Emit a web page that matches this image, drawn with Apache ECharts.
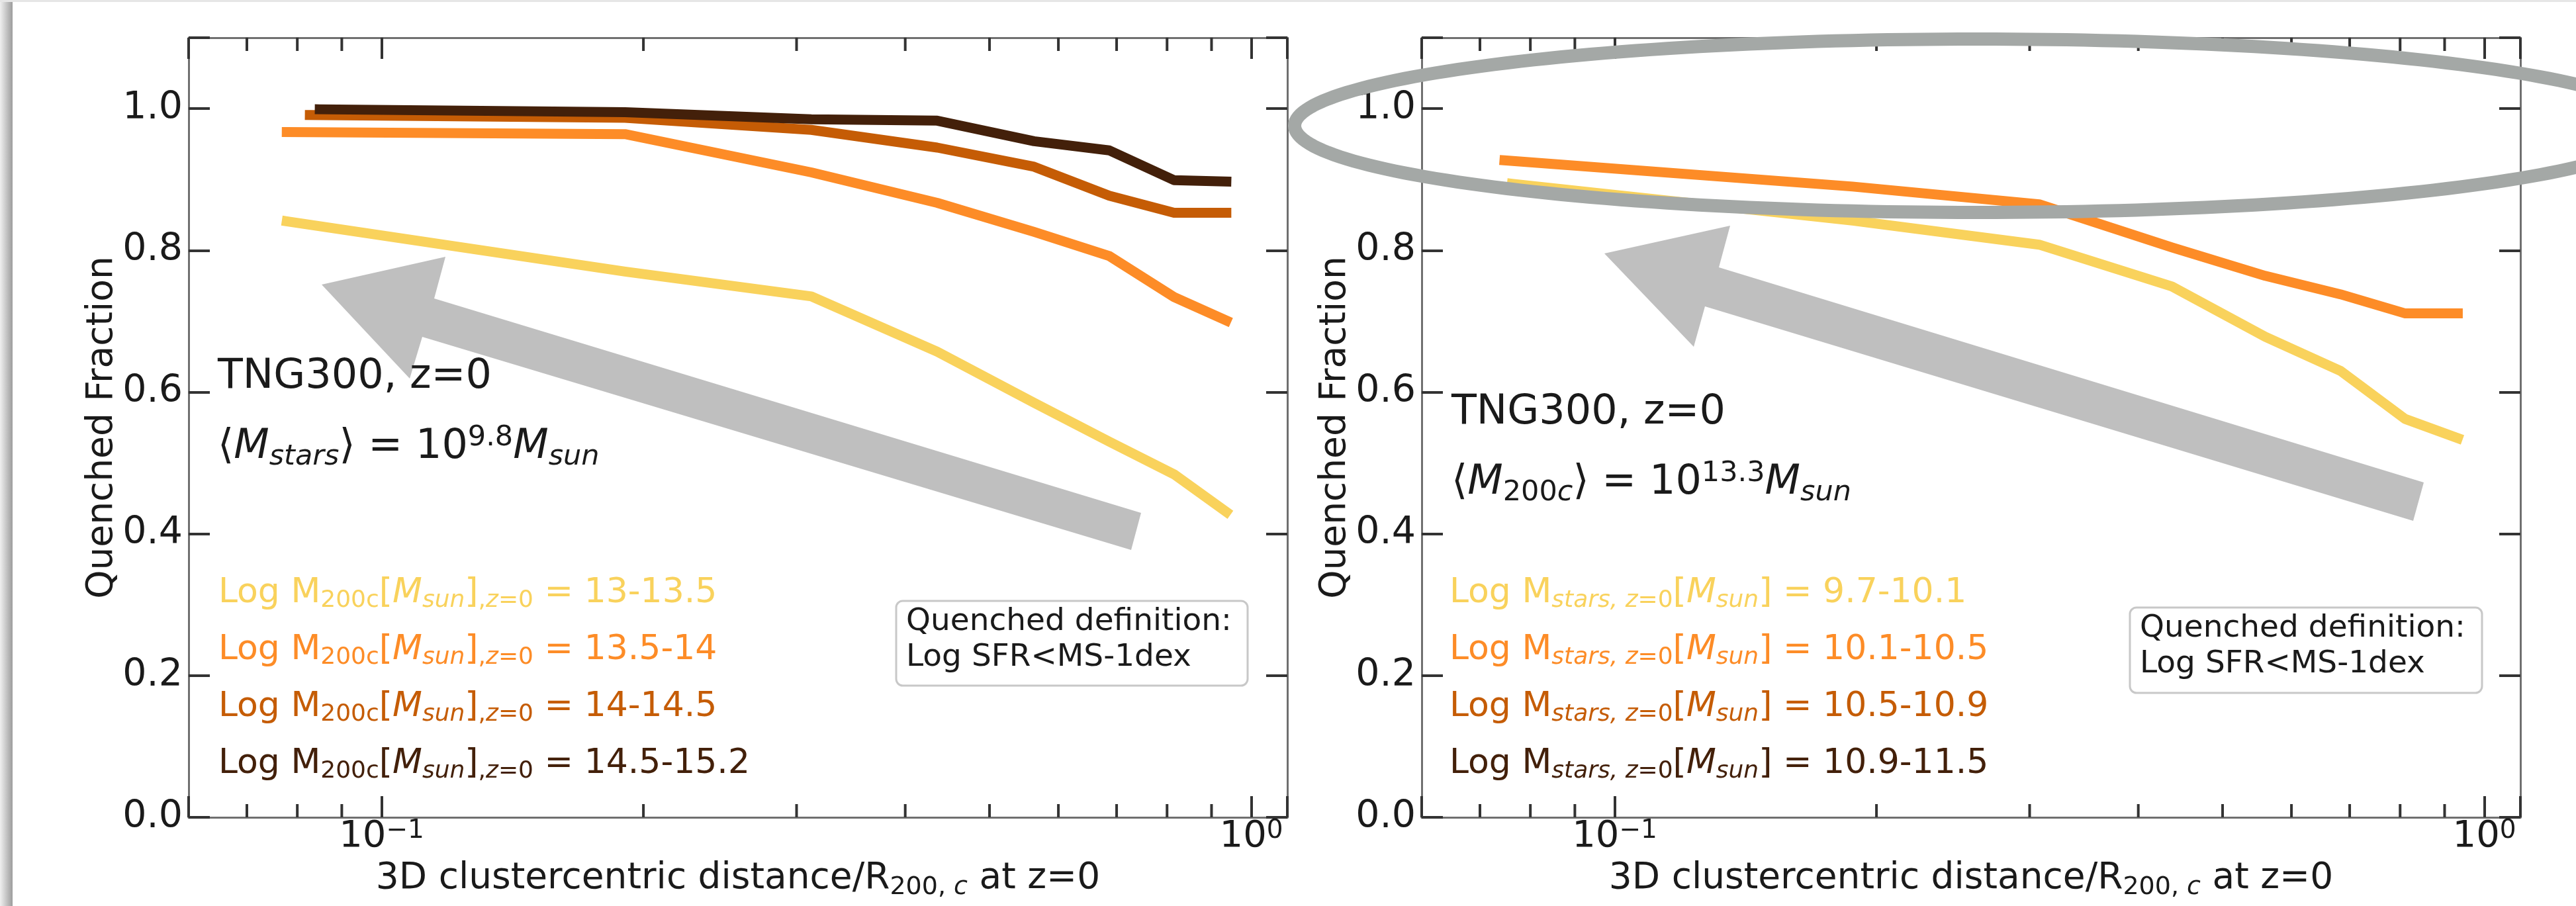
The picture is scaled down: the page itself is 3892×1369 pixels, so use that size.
<!DOCTYPE html>
<html>
<head>
<meta charset="utf-8">
<script src="https://cdn.jsdelivr.net/npm/echarts@6/dist/echarts.min.js"></script>
<style>
  html, body { margin: 0; padding: 0; background: #fff; }
  #chart { width: 3892px; height: 1369px; }
</style>
</head>
<body>
<div id="chart"></div>
<script>
// axis ranges and ticks
const xMin = 0.06, xMax = 1.1;
const yMin = 0, yMax = 1.1, yStep = 0.2;
const minorTickValues = [0.06, 0.07, 0.08, 0.09, 0.2, 0.3, 0.4, 0.5, 0.6, 0.7, 0.8, 0.9];

const lineColors = ["#f9d25c", "#fd8c27", "#c55c05", "#43200a"];

// left panel : split by host halo mass
const leftRanges = ["13-13.5", "13.5-14", "14-14.5", "14.5-15.2"];
const leftX1 = [0.0778, 0.1905, 0.312, 0.4353, 0.5626, 0.6866, 0.815, 0.936];
const leftY1 = [0.841, 0.770, 0.735, 0.657, 0.585, 0.530, 0.484, 0.431];
const leftX2 = [0.0778, 0.1905, 0.312, 0.4353, 0.5626, 0.6866, 0.815, 0.936];
const leftY2 = [0.967, 0.964, 0.910, 0.867, 0.826, 0.792, 0.734, 0.701];
const leftX3 = [0.0827, 0.1905, 0.312, 0.4353, 0.5626, 0.6866, 0.815, 0.936];
const leftY3 = [0.991, 0.987, 0.970, 0.945, 0.918, 0.877, 0.853, 0.853];
const leftX4 = [0.0849, 0.1905, 0.312, 0.4353, 0.5626, 0.6866, 0.815, 0.936];
const leftY4 = [0.999, 0.995, 0.985, 0.983, 0.954, 0.941, 0.899, 0.897];

// right panel : split by stellar mass (only two bins have a curve)
const rightRanges = ["9.7-10.1", "10.1-10.5", "10.5-10.9", "10.9-11.5"];
const rightX1 = [0.0762, 0.1877, 0.3077, 0.4373, 0.5598, 0.683, 0.811, 0.932];
const rightY1 = [0.894, 0.842, 0.808, 0.749, 0.678, 0.630, 0.562, 0.535];
const rightX2 = [0.0747, 0.1877, 0.3077, 0.4373, 0.5598, 0.683, 0.811, 0.932];
const rightY2 = [0.927, 0.890, 0.865, 0.804, 0.764, 0.738, 0.711, 0.711];

const FONT = "DejaVu Sans";
const TXT = "#1a1a1a";

function pairs(xs, ys) {
  return xs.map((x, i) => [x, ys[i]]);
}

// legend labels with mathtext-like sub/superscripts
const leftNames = leftRanges.map(r => "Log M200c " + r);
const rightNames = rightRanges.map(r => "Log Mstars " + r);
const legendText = {};
leftRanges.forEach((r, i) => {
  legendText[leftNames[i]] = "{m|Log M}{s|200c}{m|[}{mi|M}{si|sun}{m|]}{s|,}{si|z}{s|=0}{m| = " + r + "}";
});
rightRanges.forEach((r, i) => {
  legendText[rightNames[i]] = "{m|Log M}{si|stars, z}{s|=0}{m|[}{mi|M}{si|sun}{m|] = " + r + "}";
});

const legendRich = {
  m: { fontFamily: FONT, fontSize: 52, lineHeight: 60 },
  mi: { fontFamily: FONT, fontSize: 52, lineHeight: 60, fontStyle: "italic" },
  s: { fontFamily: FONT, fontSize: 36, lineHeight: 28, verticalAlign: "bottom" },
  si: { fontFamily: FONT, fontSize: 36, lineHeight: 28, verticalAlign: "bottom", fontStyle: "italic" }
};

function makeLegend(names, left) {
  return {
    orient: "vertical",
    left: left,
    top: 866,
    padding: 0,
    itemGap: 26,
    itemWidth: 0,
    itemHeight: 0,
    icon: "none",
    selectedMode: false,
    data: names.map((n, i) => ({ name: n, textStyle: { color: lineColors[i] } })),
    formatter: n => legendText[n],
    textStyle: { fontFamily: FONT, fontSize: 52, lineHeight: 60, rich: legendRich }
  };
}

function logLabel(v) {
  const e = Math.round(Math.log10(v));
  if (Math.abs(Math.log10(v) - e) > 1e-6) return "";
  return "{n|10}{e|" + (e < 0 ? "\u2212" + (-e) : e) + "}";
}

function xAxisPair(gridIndex) {
  const line = { show: true, onZero: false, lineStyle: { color: "#707070", width: 3 } };
  const tick = { show: true, inside: true, length: 32, lineStyle: { color: "#333", width: 4 } };
  return [
    {
      gridIndex: gridIndex, type: "log", logBase: 10, min: xMin, max: xMax, position: "bottom",
      axisLine: line, axisTick: tick, splitLine: { show: false },
      axisLabel: {
        margin: 1, fontSize: 56, fontFamily: FONT, color: TXT,
        formatter: logLabel,
        rich: {
          n: { fontFamily: FONT, fontSize: 56, lineHeight: 56, color: TXT },
          e: { fontFamily: FONT, fontSize: 39, lineHeight: 26, verticalAlign: "top", color: TXT }
        }
      },
      name: "{a|3D clustercentric distance/R}{s|200, }{si|c}{a| at z=0}",
      nameLocation: "middle", nameGap: 61, nameMoveOverlap: false,
      nameTextStyle: {
        fontFamily: FONT, fontSize: 55, color: TXT,
        rich: {
          a: { fontFamily: FONT, fontSize: 55, lineHeight: 64, color: TXT },
          s: { fontFamily: FONT, fontSize: 38, lineHeight: 30, verticalAlign: "bottom", color: TXT },
          si: { fontFamily: FONT, fontSize: 38, lineHeight: 30, verticalAlign: "bottom", fontStyle: "italic", color: TXT }
        }
      }
    },
    {
      gridIndex: gridIndex, type: "log", logBase: 10, min: xMin, max: xMax, position: "top",
      axisLine: line, axisTick: tick, splitLine: { show: false }, axisLabel: { show: false }
    }
  ];
}

function yAxisPair(gridIndex) {
  const line = { show: true, onZero: false, lineStyle: { color: "#707070", width: 3 } };
  const tick = { show: true, inside: true, length: 32, lineStyle: { color: "#333", width: 4 } };
  return [
    {
      gridIndex: gridIndex, type: "value", min: yMin, max: yMax, interval: yStep, position: "left",
      axisLine: line, axisTick: tick, splitLine: { show: false },
      axisLabel: {
        margin: 9, fontSize: 57, fontFamily: FONT, color: TXT,
        formatter: v => (v > 1.05 ? "" : v.toFixed(1))
      },
      name: "Quenched Fraction", nameLocation: "middle", nameGap: 98, nameMoveOverlap: false,
      nameTextStyle: { fontFamily: FONT, fontSize: 55, color: TXT, lineHeight: 64 }
    },
    {
      gridIndex: gridIndex, type: "value", min: yMin, max: yMax, interval: yStep, position: "right",
      axisLine: line, axisTick: tick, splitLine: { show: false }, axisLabel: { show: false }
    }
  ];
}

function lineSeries(name, data, color, axisIdx) {
  return {
    name: name, type: "line", data: data,
    xAxisIndex: axisIdx, yAxisIndex: axisIdx,
    showSymbol: false, symbol: "none", silent: true,
    lineStyle: { color: color, width: 15, cap: "square", join: "round" }
  };
}

// matplotlib style minor ticks (2..9 x 10^n) on bottom and top spine
function minorTicks(axisIdx) {
  return {
    type: "custom", xAxisIndex: axisIdx, yAxisIndex: axisIdx, silent: true, z: 5,
    data: minorTickValues.map(v => [v, yMin]),
    renderItem: function (params, api) {
      const b = api.coord([api.value(0), yMin]);
      const t = api.coord([api.value(0), yMax]);
      const st = { stroke: "#333", lineWidth: 4 };
      return {
        type: "group",
        children: [
          { type: "line", shape: { x1: b[0], y1: b[1], x2: b[0], y2: b[1] - 20 }, style: st },
          { type: "line", shape: { x1: t[0], y1: t[1], x2: t[0], y2: t[1] + 20 }, style: st }
        ]
      };
    }
  };
}

// annotation text
const annRich = {
  a: { font: '62px "DejaVu Sans"', lineHeight: 72, fill: TXT },
  ai: { font: 'italic 62px "DejaVu Sans"', lineHeight: 72, fill: TXT },
  sb: { font: '43px "DejaVu Sans"', lineHeight: 39, verticalAlign: "bottom", fill: TXT },
  sbi: { font: 'italic 43px "DejaVu Sans"', lineHeight: 39, verticalAlign: "bottom", fill: TXT },
  sp: { font: '43px "DejaVu Sans"', lineHeight: 41, verticalAlign: "top", fill: TXT }
};

function annText(x, y, text) {
  return { type: "text", z: 80, silent: true, style: { x: x, y: y, text: text, rich: annRich, font: '62px "DejaVu Sans"', fill: TXT } };
}

function defBox(x, y, w, h) {
  return {
    type: "group", z: 80, silent: true,
    children: [
      { type: "rect", shape: { x: x, y: y, width: w, height: h, r: 10 }, style: { fill: "#fff", stroke: "#c8c8c8", lineWidth: 3 } },
      {
        type: "text",
        style: {
          x: x + 15, y: y + 5, text: "Quenched definition:\nLog SFR<MS-1dex",
          font: '47px "DejaVu Sans"', lineHeight: 54, fill: TXT
        }
      }
    ]
  };
}

// big grey arrows and the ellipse drawn on the slide
const arrowLeft = [[486, 430], [673, 388], [656, 451], [1724, 775], [1709, 831], [638, 509], [619, 572]];
const arrowRight = [[2424, 383], [2614, 341], [2597, 404], [3662, 729], [3646, 787], [2576, 463], [2559, 524]];
const ellipsePts = [];
for (let k = 0; k < 240; k++) {
  const t = (2 * Math.PI * k) / 240;
  ellipsePts.push([2987 + 1031 * Math.cos(t), 190 + 131 * Math.sin(t)]);
}

let myChart = echarts.init(document.getElementById("chart"), null, { renderer: "canvas" });

let series = [
  lineSeries(leftNames[0], pairs(leftX1, leftY1), lineColors[0], 0),
  lineSeries(leftNames[1], pairs(leftX2, leftY2), lineColors[1], 0),
  lineSeries(leftNames[2], pairs(leftX3, leftY3), lineColors[2], 0),
  lineSeries(leftNames[3], pairs(leftX4, leftY4), lineColors[3], 0),
  lineSeries(rightNames[0], pairs(rightX1, rightY1), lineColors[0], 2),
  lineSeries(rightNames[1], pairs(rightX2, rightY2), lineColors[1], 2),
  lineSeries(rightNames[2], [], lineColors[2], 2),
  lineSeries(rightNames[3], [], lineColors[3], 2),
  minorTicks(0),
  minorTicks(2)
];

let option = {
  animation: false,
  backgroundColor: "#fff",
  grid: [
    { left: 285, top: 57, width: 1660, height: 1178, outerBoundsMode: "none", containLabel: false },
    { left: 2148, top: 57, width: 1660, height: 1178, outerBoundsMode: "none", containLabel: false }
  ],
  xAxis: xAxisPair(0).concat(xAxisPair(1)),
  yAxis: yAxisPair(0).concat(yAxisPair(1)),
  legend: [makeLegend(leftNames, 325), makeLegend(rightNames, 2185)],
  series: series,
  graphic: [
    // slide edge shading
    {
      type: "rect", silent: true, shape: { x: 0, y: 0, width: 19, height: 1369 },
      style: { fill: { type: "linear", x: 0, y: 0, x2: 1, y2: 0, colorStops: [{ offset: 0, color: "#f0f0f0" }, { offset: 1, color: "#9c9c9c" }] } }
    },
    { type: "rect", silent: true, shape: { x: 0, y: 0, width: 3892, height: 3 }, style: { fill: "#e6e6e6" } },
    { type: "polygon", z: 60, silent: true, shape: { points: arrowLeft }, style: { fill: "#bfbfbf" } },
    { type: "polygon", z: 60, silent: true, shape: { points: arrowRight }, style: { fill: "#bfbfbf" } },
    { type: "polygon", z: 70, silent: true, shape: { points: ellipsePts }, style: { fill: "none", stroke: "#a4a8a6", lineWidth: 20 } },
    annText(329, 534, "{a|TNG300, z=0}"),
    annText(329, 640, "{a|\u27e8}{ai|M}{sbi|stars}{a|\u27e9 = 10}{sp|9.8}{ai|M}{sbi|sun}"),
    annText(2193, 588, "{a|TNG300, z=0}"),
    annText(2193, 694, "{a|\u27e8}{ai|M}{sb|200}{sbi|c}{a|\u27e9 = 10}{sp|13.3}{ai|M}{sbi|sun}"),
    defBox(1354, 908, 531, 128),
    defBox(3218, 918, 532, 129)
  ]
};

myChart.setOption(option);
</script>
</body>
</html>
